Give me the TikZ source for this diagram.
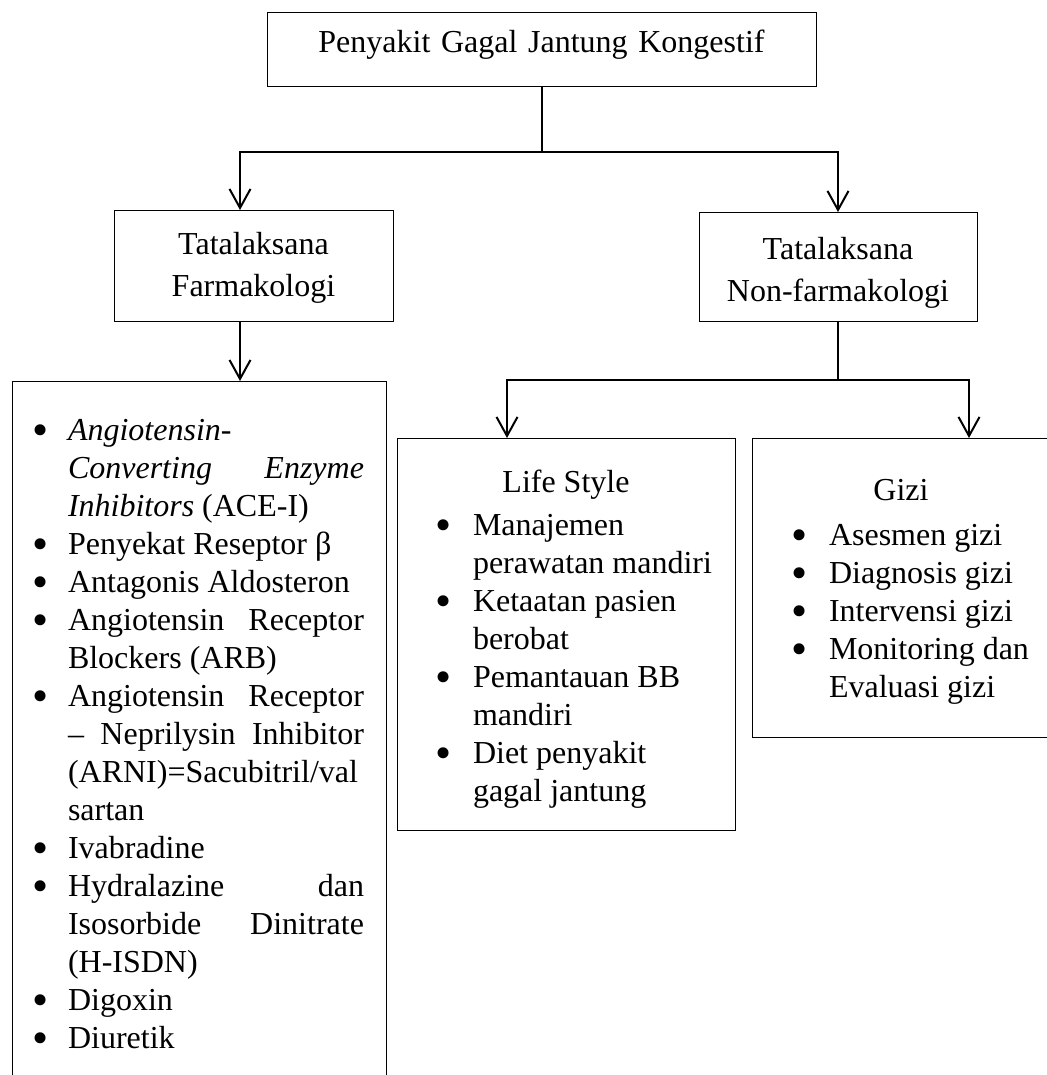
\documentclass[tikz,border=0pt]{standalone}
\usepackage{fontspec}
\setmainfont{Liberation Serif}
\usetikzlibrary{arrows.meta}

% bullet item with hanging indent: #1 text indent, #2 bullet indent
\newcommand{\bulitem}[2]{\par\hangindent=#1\hangafter=1\noindent
  \makebox[#1][l]{\hspace{#2}\smash{\raisebox{-2.5pt}{\fontsize{23pt}{0pt}\selectfont\textbullet}}}}

\begin{document}
\begin{tikzpicture}[x=0.5pt,y=-0.5pt,
    box/.style={draw,line width=0.5pt,inner sep=0pt,anchor=north,align=center,
      font={\fontsize{16pt}{21pt}\selectfont}},
    listbox/.style={draw,line width=0.5pt,inner sep=0pt,anchor=north,
      font={\fontsize{16pt}{19pt}\selectfont}},
    link/.style={line width=1pt},
    arrow/.style={line width=1pt,-{Straight Barb[length=9.5pt,width=10.5pt]}}]
  \useasboundingbox (0,0) rectangle (1046,1075);

  % heading boxes
  \node[box,text width=274.5pt,text height=20pt,text depth=17pt] (top) at (541.5,12)
    {Penyakit Gagal Jantung Kongestif};
  \node[box,text width=139.5pt,text height=22pt,text depth=33.5pt] (farm) at (253.5,210)
    {Tatalaksana\\Farmakologi};
  \node[box,text width=139pt,text height=23.5pt,text depth=31pt] (nonfarm) at (838,212)
    {Tatalaksana\\Non-farmakologi};

  % list of drugs
  \node[listbox,minimum width=187pt,text height=29.5pt,text depth=325pt] (obat) at (199,381) {%
    \begin{minipage}[t]{165pt}\raggedright
    \bulitem{17pt}{-1pt}\textit{Angiotensin-}\newline
      \textit{Converting}\hfill\textit{Enzyme}\newline
      \textit{Inhibitors} (ACE-I)
    \bulitem{17pt}{-1pt}Penyekat Reseptor β
    \bulitem{17pt}{-1pt}Antagonis Aldosteron
    \bulitem{17pt}{-1pt}Angiotensin\hfill Receptor\newline Blockers (ARB)
    \bulitem{17pt}{-1pt}Angiotensin\hfill Receptor\newline
      –\hfill Neprilysin\hfill Inhibitor\newline
      (ARNI)=Sacubitril/val\newline sartan
    \bulitem{17pt}{-1pt}Ivabradine
    \bulitem{17pt}{-1pt}Hydralazine\hfill dan\newline
      Isosorbide\hfill Dinitrate\newline (H-ISDN)
    \bulitem{17pt}{-1pt}Digoxin
    \bulitem{17pt}{-1pt}Diuretik
    \end{minipage}};

  % life style
  \node[listbox,minimum width=169pt,text height=27pt,text depth=169pt] (life) at (566,438) {%
    \begin{minipage}[t]{149pt}\raggedright
    \makebox[\linewidth]{Life Style}\par\vspace{2.5pt}
    \bulitem{28pt}{9pt}Manajemen\newline perawatan mandiri
    \bulitem{28pt}{9pt}Ketaatan pasien\newline berobat
    \bulitem{28pt}{9pt}Pemantauan BB\newline mandiri
    \bulitem{28pt}{9pt}Diet penyakit\newline gagal jantung
    \end{minipage}};

  % gizi
  \node[listbox,minimum width=149pt,text height=31pt,text depth=118.5pt] (gizi) at (901,438) {%
    \begin{minipage}[t]{139pt}\raggedright
    \makebox[\linewidth]{Gizi}\par\vspace{3.5pt}
    \bulitem{33.5pt}{14.5pt}Asesmen gizi
    \bulitem{33.5pt}{14.5pt}Diagnosis gizi
    \bulitem{33.5pt}{14.5pt}Intervensi gizi
    \bulitem{33.5pt}{14.5pt}Monitoring dan\newline Evaluasi gizi
    \end{minipage}};

  % connectors
  \coordinate (split1) at (top.south |- 0,152);
  \coordinate (farmout) at ([xshift=-6.75pt]farm.south);
  \coordinate (split2) at (nonfarm.south |- 0,380);
  \draw[link] (top.south) -- (split1);
  \draw[arrow] (split1) -| ([xshift=-6.75pt]farm.north);
  \draw[arrow] (split1) -| (nonfarm.north);
  \draw[arrow] (farmout) -- (farmout |- obat.north);
  \draw[link] (nonfarm.south) -- (split2);
  \draw[arrow] (split2) -| ([xshift=-29.5pt]life.north);
  \draw[arrow] (split2) -| ([xshift=34pt]gizi.north);
\end{tikzpicture}
\end{document}
